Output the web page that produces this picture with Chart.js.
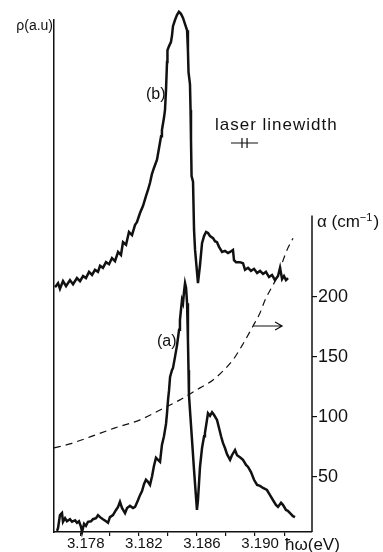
<!DOCTYPE html>
<html>
<head>
<meta charset="utf-8">
<script src="https://cdn.jsdelivr.net/npm/chart.js@4.4.1/dist/chart.umd.min.js"></script>
<style>
  html, body { margin: 0; padding: 0; background: #fff; }
  #wrap { width: 383px; height: 552px; }
</style>
</head>
<body>
<div id="wrap"><canvas id="spectrum" width="383" height="552"></canvas></div>
<script>
// trace (b): upper curve, photon energy (eV) vs rho (a.u.)
const bEnergy = [3.17623, 3.17644, 3.17657, 3.17678, 3.17699, 3.17726, 3.17747, 3.17774, 3.17795, 3.17816,
  3.17836, 3.17857, 3.17878, 3.17898, 3.17919, 3.17933, 3.17953, 3.17974, 3.17995, 3.18015,
  3.18036, 3.18057, 3.18077, 3.18091, 3.18112, 3.18132, 3.18153, 3.18174, 3.18187, 3.18208,
  3.18229, 3.18249, 3.18263, 3.18277, 3.18290, 3.18304, 3.18325, 3.18339, 3.18353, 3.18359,
  3.18373, 3.18380, 3.18387, 3.18394, 3.18397, 3.18408, 3.18421, 3.18428, 3.18435, 3.18449,
  3.18463, 3.18476, 3.18490, 3.18504, 3.18518, 3.18532, 3.18538, 3.18542, 3.18552, 3.18556,
  3.18559, 3.18563, 3.18573, 3.18580, 3.18587, 3.18607, 3.18621, 3.18635, 3.18649, 3.18663,
  3.18676, 3.18690, 3.18711, 3.18724, 3.18738, 3.18752, 3.18773, 3.18793, 3.18814, 3.18828,
  3.18848, 3.18855, 3.18869, 3.18896, 3.18917, 3.18931, 3.18952, 3.18972, 3.18993, 3.19014,
  3.19034, 3.19055, 3.19075, 3.19096, 3.19117, 3.19137, 3.19158, 3.19172, 3.19186, 3.19199,
  3.19213, 3.19227];
const bRho = [47.8, 48.6, 47.5, 49.0, 48.0, 49.2, 48.4, 49.6, 49.0, 50.0,
  49.6, 50.8, 50.2, 51.2, 50.8, 52.0, 51.6, 52.7, 52.3, 53.5,
  52.9, 54.7, 54.1, 56.6, 56.1, 58.6, 58.0, 60.0, 60.5, 62.3,
  63.7, 65.6, 66.8, 68.2, 69.9, 71.1, 72.7, 75.0, 77.3, 78.5,
  80.9, 82.4, 86.3, 91.8, 94.1, 94.9, 95.7, 96.9, 98.8, 100.0,
  101.0, 101.6, 101.2, 100.4, 99.2, 98.0, 94.1, 89.8, 87.5, 82.4,
  76.6, 69.5, 68.4, 59.0, 55.1, 48.6, 52.1, 56.4, 57.8, 58.6,
  58.4, 57.8, 57.4, 56.8, 56.6, 55.7, 54.7, 54.9, 54.5, 54.7,
  55.1, 53.1, 52.7, 52.7, 52.5, 51.2, 51.6, 51.0, 51.4, 50.6,
  51.0, 50.4, 50.8, 49.8, 50.2, 49.2, 50.0, 51.6, 49.4, 50.0,
  49.2, 49.6];

// trace (a): lower curve
const aEnergy = [3.17637, 3.17644, 3.17657, 3.17671, 3.17678, 3.17692, 3.17705, 3.17726, 3.17740, 3.17761,
  3.17774, 3.17788, 3.17802, 3.17809, 3.17823, 3.17836, 3.17850, 3.17871, 3.17884, 3.17905,
  3.17919, 3.17933, 3.17953, 3.17974, 3.17988, 3.18001, 3.18022, 3.18043, 3.18057, 3.18070,
  3.18084, 3.18105, 3.18119, 3.18139, 3.18160, 3.18174, 3.18194, 3.18208, 3.18222, 3.18236,
  3.18249, 3.18263, 3.18277, 3.18291, 3.18304, 3.18318, 3.18332, 3.18346, 3.18359, 3.18373,
  3.18380, 3.18387, 3.18394, 3.18401, 3.18408, 3.18415, 3.18428, 3.18435, 3.18449, 3.18463,
  3.18477, 3.18483, 3.18490, 3.18497, 3.18504, 3.18511, 3.18518, 3.18525, 3.18532, 3.18538,
  3.18542, 3.18545, 3.18552, 3.18566, 3.18580, 3.18594, 3.18600, 3.18607, 3.18621, 3.18635,
  3.18649, 3.18655, 3.18669, 3.18676, 3.18690, 3.18704, 3.18717, 3.18738, 3.18752, 3.18766,
  3.18779, 3.18793, 3.18807, 3.18828, 3.18841, 3.18862, 3.18876, 3.18896, 3.18917, 3.18938,
  3.18952, 3.18972, 3.18993, 3.19014, 3.19034, 3.19055, 3.19082, 3.19103, 3.19124, 3.19144,
  3.19158, 3.19179, 3.19192, 3.19213, 3.19227, 3.19241, 3.19261, 3.19275];
const aRho = [0.2, 0.8, 3.3, 3.7, 2.0, 2.7, 2.1, 2.5, 2.0, 2.3,
  1.8, 2.1, 1.0, 0.0, 1.6, 1.2, 2.0, 2.1, 2.5, 2.7,
  3.3, 2.9, 2.5, 2.1, 1.8, 2.9, 3.3, 4.3, 4.9, 5.9,
  4.7, 3.7, 4.7, 5.1, 4.7, 4.9, 6.2, 7.2, 8.0, 9.4,
  10.2, 9.8, 9.2, 10.9, 12.9, 14.5, 14.1, 13.7, 17.0, 18.7,
  19.9, 21.1, 23.2, 25.8, 27.7, 30.3, 31.6, 32.0, 34.2, 36.5,
  39.5, 41.4, 43.4, 45.3, 44.7, 46.9, 48.6, 47.7, 44.7, 37.5,
  31.6, 26.8, 23.8, 18.0, 12.1, 6.6, 4.3, 6.2, 12.7, 16.4,
  18.7, 19.3, 21.9, 23.2, 22.7, 23.4, 22.9, 21.9, 20.3, 18.7,
  17.4, 16.4, 15.2, 14.1, 15.0, 16.0, 15.0, 14.6, 14.1, 13.1,
  12.7, 11.7, 10.2, 9.2, 9.0, 8.6, 8.2, 7.2, 6.2, 5.3,
  4.9, 5.7, 5.3, 4.3, 4.1, 3.7, 3.1, 2.9];

// absorption coefficient alpha (cm^-1), dashed curve, right axis
const alphaEnergy = [3.17616, 3.17726, 3.17864, 3.18036, 3.18208, 3.18346, 3.18483, 3.18621, 3.18711, 3.18779,
  3.18848, 3.18917, 3.18986, 3.19034, 3.19069, 3.19151, 3.19220, 3.19261];
const alphaValues = [74.2, 77.5, 83.3, 90.8, 97.5, 105.8, 114.2, 124.2, 130.8, 138.3,
  147.5, 160.8, 175.8, 186.7, 197.5, 216.7, 239.2, 249.0];

// axes
const energyRange = [3.17616, 3.19392];
const energyTicks = [3.178, 3.180, 3.182, 3.184, 3.186, 3.188, 3.190, 3.192];
const energyLabels = [3.178, 3.182, 3.186, 3.190];
const rhoRange = [0, 100];
const alphaRange = [4, 431];
const alphaTicks = [50, 100, 150, 200];
const alphaAxisTop = 268;

// annotations
const arrowEnergy = [3.18986, 3.19186];
const arrowAlpha = 175.8;
const laserLine = [3.18910, 3.18945];

const INK = '#111';
const FONT = "'Liberation Sans', Arial, sans-serif";

function toPoints(xs, ys) {
    return xs.map((x, i) => ({ x, y: ys[i] }));
}

const annotations = {
    id: 'annotations',
    afterDraw(chart) {
        const { ctx, chartArea } = chart;
        const x = chart.scales.x;
        const ya = chart.scales.alpha;
        ctx.save();
        ctx.strokeStyle = INK;
        ctx.fillStyle = INK;

        // right axis line, only the lower part
        ctx.lineWidth = 1.5;
        ctx.beginPath();
        ctx.moveTo(chartArea.right, ya.getPixelForValue(alphaAxisTop));
        ctx.lineTo(chartArea.right, chartArea.bottom);
        ctx.stroke();

        // arrow to the alpha axis
        const ay = ya.getPixelForValue(arrowAlpha);
        const ax0 = x.getPixelForValue(arrowEnergy[0]);
        const ax1 = x.getPixelForValue(arrowEnergy[1]);
        ctx.lineWidth = 1.2;
        ctx.beginPath();
        ctx.moveTo(ax0, ay);
        ctx.lineTo(ax1, ay);
        ctx.moveTo(ax1 - 7, ay - 4);
        ctx.lineTo(ax1, ay);
        ctx.lineTo(ax1 - 7, ay + 4);
        ctx.stroke();

        // laser linewidth marker
        const lx0 = x.getPixelForValue(laserLine[0]);
        const lx1 = x.getPixelForValue(laserLine[1]);
        const ly = 143;
        ctx.lineWidth = 1.2;
        ctx.beginPath();
        ctx.moveTo(lx0 - 11, ly);
        ctx.lineTo(lx1 + 11, ly);
        ctx.moveTo(lx0, ly - 5);
        ctx.lineTo(lx0, ly + 5);
        ctx.moveTo(lx1, ly - 5);
        ctx.lineTo(lx1, ly + 5);
        ctx.stroke();

        // texts
        ctx.textBaseline = 'alphabetic';
        ctx.font = "14px " + FONT;
        ctx.textAlign = 'right';
        ctx.fillText('ρ(a.u)', 53, 30);

        ctx.textAlign = 'left';
        ctx.font = "16px " + FONT;
        ctx.fillText('(b)', 146, 99);
        ctx.fillText('(a)', 157, 346);

        ctx.font = "17px " + FONT;
        ctx.letterSpacing = '1px';
        ctx.fillText('laser linewidth', 215, 130);
        ctx.letterSpacing = '0px';

        // alpha axis title
        ctx.font = "17px " + FONT;
        let tx = 317;
        ctx.fillText('α (cm', tx, 227);
        tx += ctx.measureText('α (cm').width;
        ctx.font = "11px " + FONT;
        ctx.fillText('−1', tx, 221);
        tx += ctx.measureText('−1').width;
        ctx.font = "17px " + FONT;
        ctx.fillText(')', tx + 1, 227);

        // energy axis title
        ctx.font = "17px " + FONT;
        ctx.fillText('ħω(eV)', 285, 550);
        ctx.restore();
    }
};

const canvas = document.getElementById('spectrum');
new Chart(canvas.getContext('2d'), {
    type: 'line',
    data: {
        datasets: [
            {
                label: '(b)',
                data: toPoints(bEnergy, bRho),
                yAxisID: 'rho',
                borderColor: INK,
                borderWidth: 2.5,
                pointRadius: 0,
                tension: 0,
                clip: false
            },
            {
                label: '(a)',
                data: toPoints(aEnergy, aRho),
                yAxisID: 'rho',
                borderColor: INK,
                borderWidth: 2.5,
                pointRadius: 0,
                tension: 0,
                clip: false
            },
            {
                label: 'alpha',
                data: toPoints(alphaEnergy, alphaValues),
                yAxisID: 'alpha',
                borderColor: INK,
                borderWidth: 1.2,
                borderDash: [7, 5],
                pointRadius: 0,
                cubicInterpolationMode: 'monotone',
                clip: false
            }
        ]
    },
    options: {
        responsive: false,
        animation: false,
        layout: { padding: { left: 54, top: 20, right: 0, bottom: 0 } },
        plugins: {
            legend: { display: false },
            tooltip: { enabled: false }
        },
        scales: {
            x: {
                type: 'linear',
                min: energyRange[0],
                max: energyRange[1],
                afterBuildTicks: s => { s.ticks = energyTicks.map(v => ({ value: v })); },
                afterFit: s => { s.height = 20; },
                ticks: {
                    autoSkip: false,
                    maxRotation: 0,
                    padding: 0,
                    labelOffset: 5,
                    color: INK,
                    font: { family: FONT, size: 15, lineHeight: 1 },
                    callback: v => energyLabels.some(l => Math.abs(l - v) < 1e-6) ? v.toFixed(3) : ''
                },
                grid: { drawOnChartArea: false, tickLength: 4, color: INK, lineWidth: 1.2 },
                border: { color: INK, width: 1.5 }
            },
            rho: {
                position: 'left',
                min: rhoRange[0],
                max: rhoRange[1],
                afterFit: s => { s.width = 0; },
                ticks: { display: false },
                grid: { display: false },
                border: { color: INK, width: 1.5 }
            },
            alpha: {
                position: 'right',
                min: alphaRange[0],
                max: alphaRange[1],
                afterBuildTicks: s => { s.ticks = alphaTicks.map(v => ({ value: v })); },
                afterFit: s => { s.width = 71; },
                ticks: {
                    padding: 1,
                    color: INK,
                    font: { family: FONT, size: 18 }
                },
                grid: { drawOnChartArea: false, tickLength: 5, color: INK, lineWidth: 1.2 },
                border: { display: false }
            }
        }
    },
    plugins: [annotations]
});
</script>
</body>
</html>
